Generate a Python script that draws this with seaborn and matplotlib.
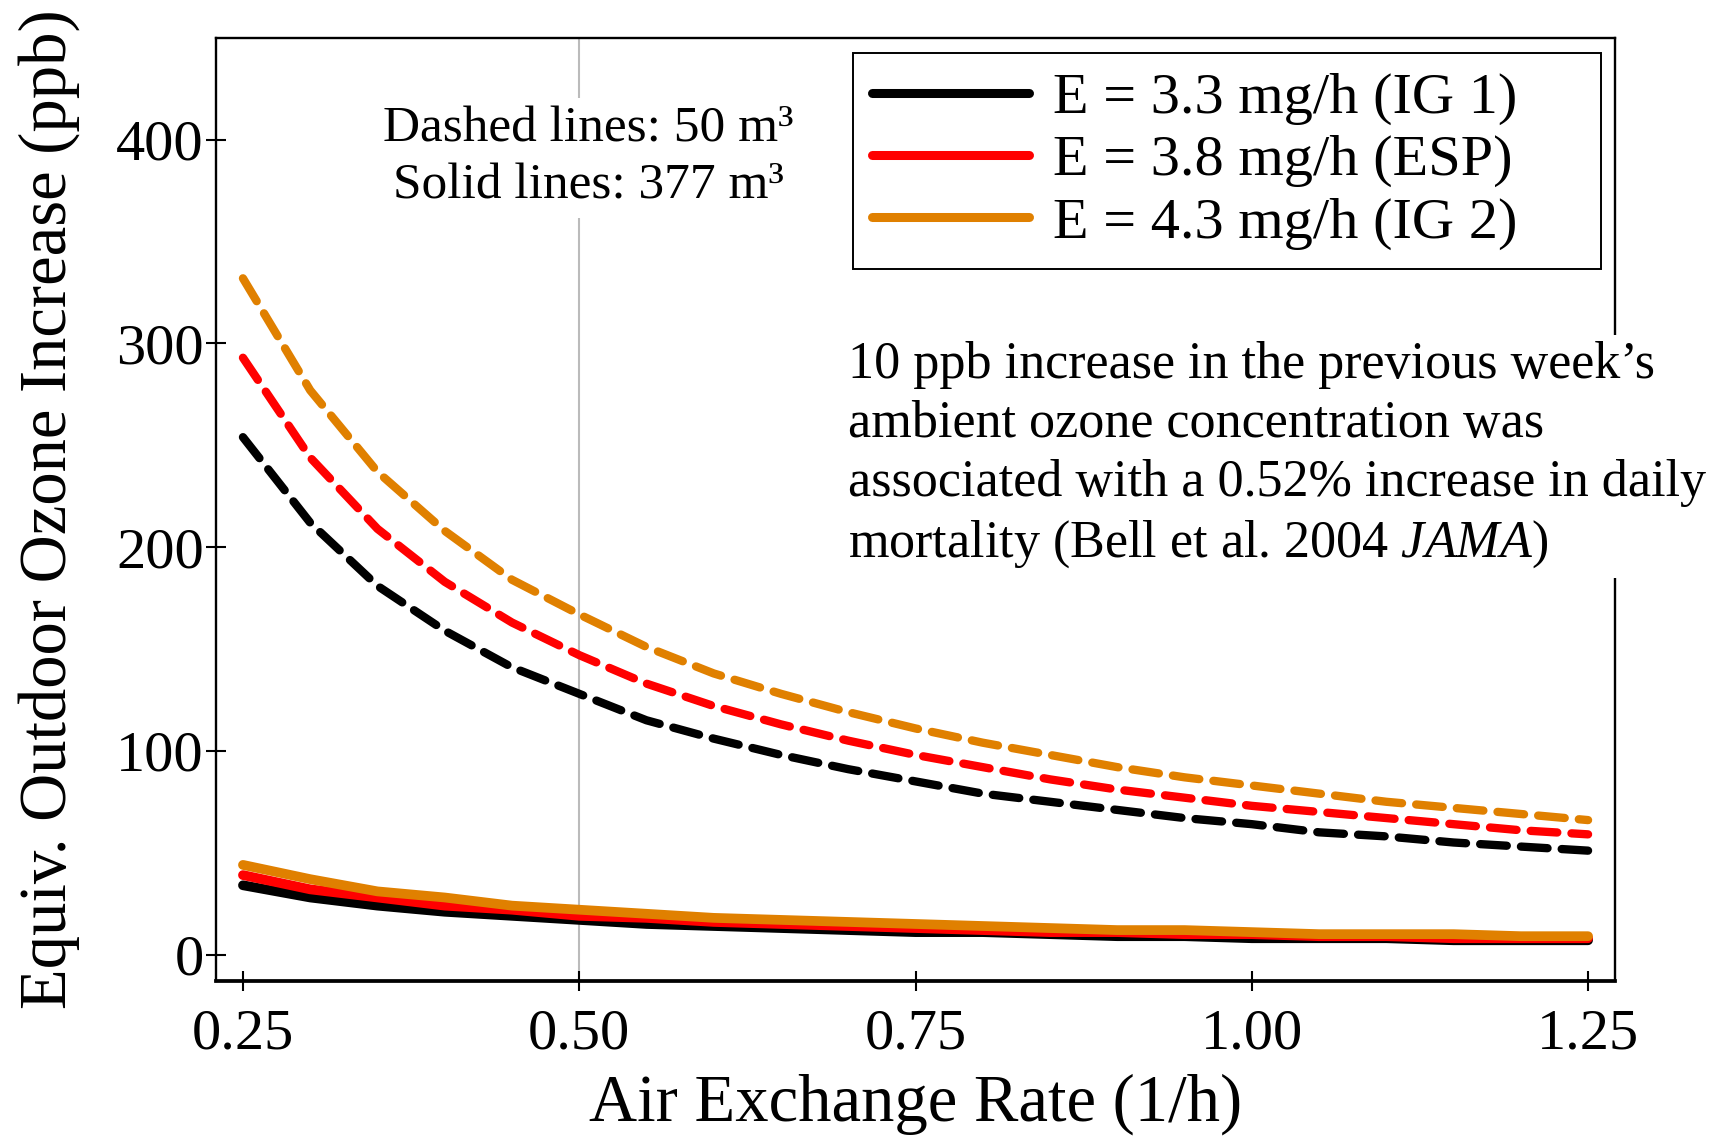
import matplotlib
matplotlib.use('Agg')
import matplotlib.pyplot as plt
from matplotlib.lines import Line2D
import pandas as pd
import seaborn as sns

# air exchange rate (1/h)
aer = [0.25, 0.30, 0.35, 0.40, 0.45, 0.50, 0.55, 0.60, 0.65, 0.70, 0.75,
       0.80, 0.85, 0.90, 0.95, 1.00, 1.05, 1.10, 1.15, 1.20, 1.25]

# 50 m3 room (dashed)
ig1_50 = [254, 212, 181, 159, 141, 128, 115, 106, 98, 91, 85, 79, 75, 71, 67, 64, 60, 58, 55, 53, 51]
esp_50 = [293, 244, 209, 183, 163, 147, 133, 122, 113, 105, 98, 92, 86, 81, 77, 73, 70, 67, 64, 61, 59]
ig2_50 = [332, 277, 237, 208, 184, 167, 151, 138, 128, 119, 111, 104, 98, 92, 87, 83, 79, 75, 72, 69, 66]

# 377 m3 room (solid)
ig1_377 = [34, 28, 24, 21, 19, 17, 15, 14, 13, 12, 11, 11, 10, 9, 9, 8, 8, 8, 7, 7, 7]
esp_377 = [39, 32, 28, 24, 22, 19, 18, 16, 15, 14, 13, 12, 11, 11, 10, 10, 9, 9, 8, 8, 8]
ig2_377 = [44, 37, 31, 28, 24, 22, 20, 18, 17, 16, 15, 14, 13, 12, 12, 11, 10, 10, 10, 9, 9]

labels = ['E = 3.3 mg/h (IG 1)', 'E = 3.8 mg/h (ESP)', 'E = 4.3 mg/h (IG 2)']
colors = ['black', '#FF0000', '#E08000']

sns.set_style('ticks')
plt.rcParams['font.family'] = ['Liberation Serif', 'DejaVu Serif']
plt.rcParams['mathtext.fontset'] = 'custom'
plt.rcParams['mathtext.rm'] = 'Liberation Serif'
plt.rcParams['mathtext.it'] = 'Liberation Serif:italic'
plt.rcParams['text.color'] = 'black'
plt.rcParams['axes.labelcolor'] = 'black'
plt.rcParams['xtick.color'] = 'black'
plt.rcParams['ytick.color'] = 'black'

fig, ax = plt.subplots(figsize=(17.23, 11.37), dpi=100)
fig.subplots_adjust(left=0.1254, right=0.9373, top=0.9666, bottom=0.1372)

ax.axvline(0.5, color='#BBBBBB', lw=1.5, zorder=0)

small = [ig1_377, esp_377, ig2_377]
big = [ig1_50, esp_50, ig2_50]
for i in range(3):
    df = pd.DataFrame({'aer': aer, 'ozone': small[i]})
    sns.lineplot(data=df, x='aer', y='ozone', color=colors[i], lw=7,
                 solid_capstyle='round', ax=ax)
for i in range(3):
    df = pd.DataFrame({'aer': aer, 'ozone': big[i]})
    sns.lineplot(data=df, x='aer', y='ozone', color=colors[i], lw=6,
                 linestyle=(0, (3.2, 1.7)), dash_capstyle='round', ax=ax)

ax.set_xlim(0.23, 1.27)
ax.set_ylim(-13, 450)
ax.set_xticks([0.25, 0.50, 0.75, 1.00, 1.25])
ax.set_xticklabels(['0.25', '0.50', '0.75', '1.00', '1.25'])
ax.set_yticks([0, 100, 200, 300, 400])
ax.tick_params(direction='inout', length=13.7, width=1.5, labelsize=42)
ax.tick_params(axis='x', pad=13)
ax.tick_params(axis='y', pad=2)

for s in ['left', 'top', 'right']:
    ax.spines[s].set_linewidth(1.7)
    ax.spines[s].set_color('black')
ax.spines['bottom'].set_linewidth(2.7)
ax.spines['bottom'].set_color('black')

ax.set_xlabel('Air Exchange Rate (1/h)', fontsize=48, labelpad=9)
ax.set_ylabel('Equiv. Outdoor Ozone Increase (ppb)', fontsize=48, labelpad=26)

ax.text(0.507, 391, 'Dashed lines: 50 m³\nSolid lines: 377 m³', ha='center', va='center',
        fontsize=37, linespacing=1.3,
        bbox=dict(facecolor='white', edgecolor='none', pad=6))

ax.text(0.70, 245,
        '10 ppb increase in the previous week’s\n'
        'ambient ozone concentration was\n'
        'associated with a 0.52% increase in daily\n'
        'mortality (Bell et al. 2004 $\\mathit{JAMA}$)',
        ha='left', va='center', fontsize=37.5, linespacing=1.3,
        bbox=dict(facecolor='white', edgecolor='none', pad=6))

handles = [Line2D([], [], color=c, lw=6.5, solid_capstyle='round') for c in colors]
leg = ax.legend(handles, labels, loc='upper left', mode='expand',
                bbox_to_anchor=(0.455, 0.5, 0.535, 0.484), borderaxespad=0,
                fontsize=42, handlelength=2.7, handletextpad=0.4,
                labelspacing=0.155, borderpad=0.33, fancybox=False, framealpha=1)
leg.get_frame().set_edgecolor('black')
leg.get_frame().set_linewidth(1.4)

fig.savefig('out.png', dpi=100)
